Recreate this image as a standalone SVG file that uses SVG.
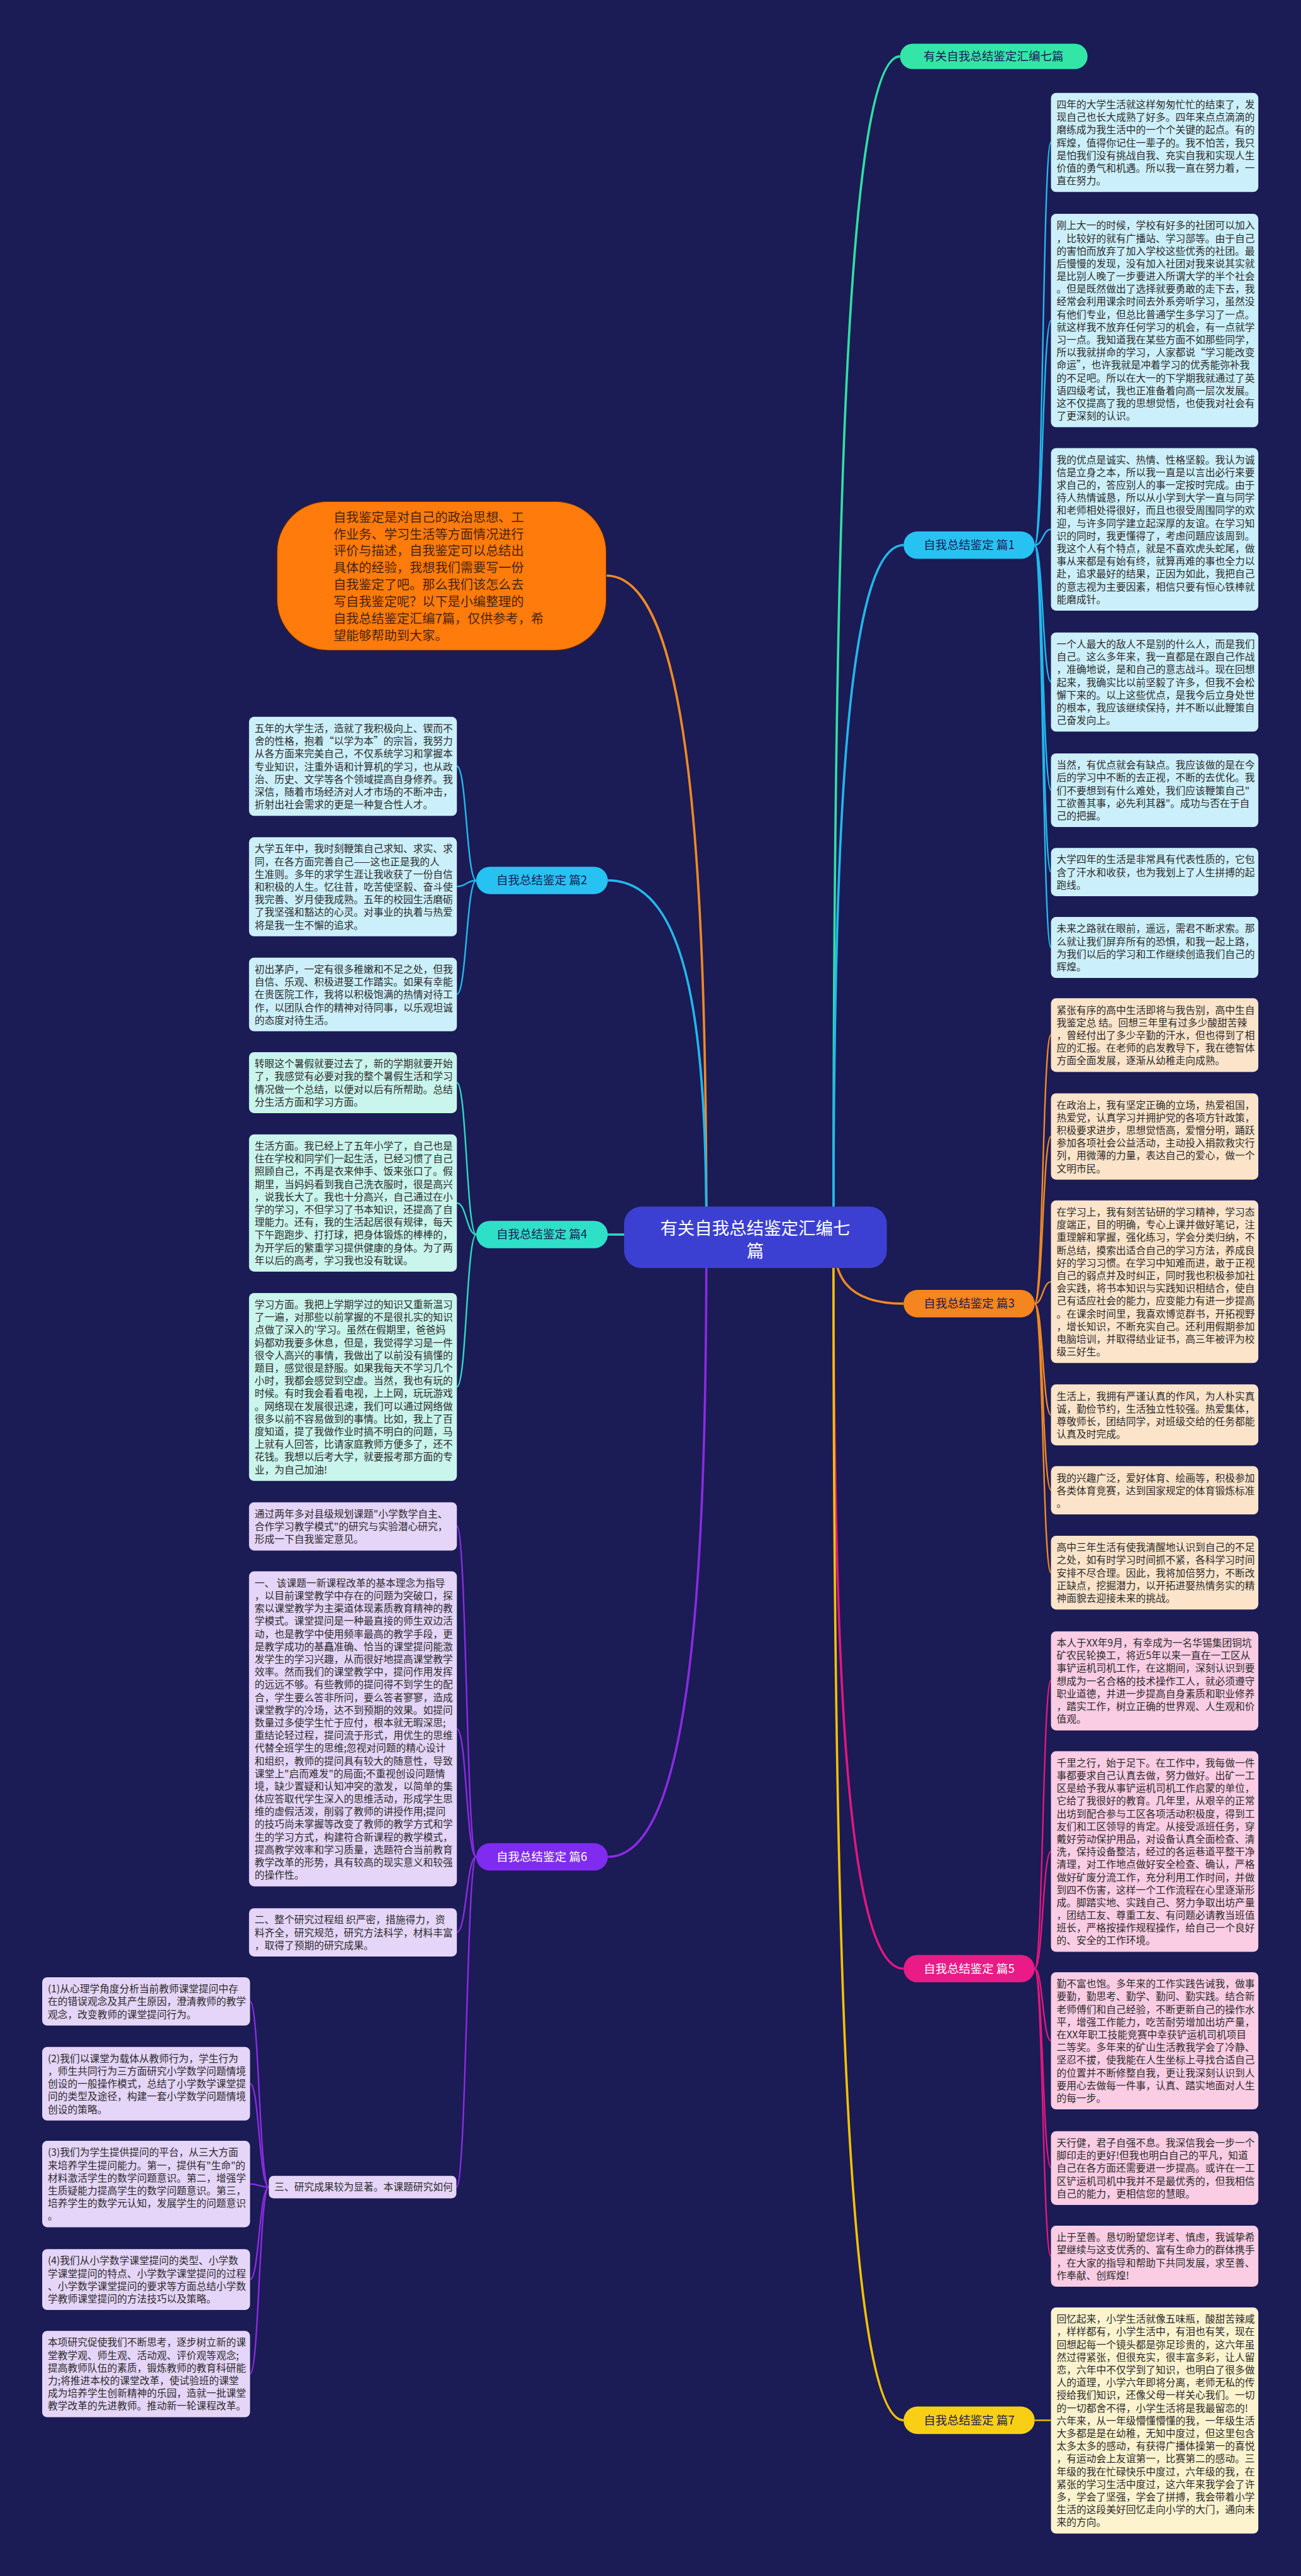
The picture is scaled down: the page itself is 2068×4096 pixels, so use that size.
<svg xmlns="http://www.w3.org/2000/svg" width="2068" height="4096" viewBox="0 0 2068 4096">
<style>
.t{font-family:"Noto Sans CJK SC","Noto Sans CJK JP",sans-serif;font-size:19.5px;fill:#2b2b2b}
.n{font-family:"Noto Sans CJK SC","Noto Sans CJK JP",sans-serif;font-size:23px;text-anchor:middle}
.c{fill:none;stroke-width:3}
.m{fill:none;stroke-width:4.5}
.bA{fill:#ccf0fb}.bB{fill:#fce4ca}.bC{fill:#fbcde4}.bD{fill:#fdf4cf}.bE{fill:#ccf0fb}.bF{fill:#c9f5ec}.bG{fill:#e5d5f8}
</style>
<rect x="0" y="0" width="2068" height="4096" fill="#1b1b55"/>
<g transform="scale(0.8078125)">
<g id="connectors">
<path class="m" stroke="#2fe0a4" d="M1640,2436 C1640,1157 1660,111 1771,111"/>
<path class="m" stroke="#22b8ec" d="M1640,2436 C1640,1686 1661,1073 1778,1073"/>
<path class="m" stroke="#f08a24" d="M1640,2436 C1640,2507 1661,2566 1778,2566"/>
<path class="m" stroke="#e0187f" d="M1640,2436 C1640,3227 1661,3875 1778,3875"/>
<path class="m" stroke="#f2c200" d="M1640,2436 C1640,3717 1661,4764 1778,4764"/>
<path class="m" stroke="#f08a24" d="M1390,2436 C1390,1719 1360,1133 1193,1133"/>
<path class="m" stroke="#22b8ec" d="M1390,2436 C1390,2049 1361,1733 1196,1733"/>
<path class="m" stroke="#2dd9c0" d="M1390,2436 C1390,2433 1361,2430 1196,2430"/>
<path class="m" stroke="#8a2be2" d="M1390,2436 C1390,3106 1361,3655 1196,3655"/>
<g stroke="#22b8ec">
<path class="c" d="M2036,1073 C2052,1073 2052,280 2068,280"/>
<path class="c" d="M2036,1073 C2052,1073 2052,631 2068,631"/>
<path class="c" d="M2036,1073 C2052,1073 2052,1042 2068,1042"/>
<path class="c" d="M2036,1073 C2052,1073 2052,1342 2068,1342"/>
<path class="c" d="M2036,1073 C2052,1073 2052,1555 2068,1555"/>
<path class="c" d="M2036,1073 C2052,1073 2052,1716 2068,1716"/>
<path class="c" d="M2036,1073 C2052,1073 2052,1865 2068,1865"/>
</g>
<g stroke="#f08a24">
<path class="c" d="M2036,2566 C2052,2566 2052,2037 2068,2037"/>
<path class="c" d="M2036,2566 C2052,2566 2052,2237 2068,2237"/>
<path class="c" d="M2036,2566 C2052,2566 2052,2523 2068,2523"/>
<path class="c" d="M2036,2566 C2052,2566 2052,2785 2068,2785"/>
<path class="c" d="M2036,2566 C2052,2566 2052,2933 2068,2933"/>
<path class="c" d="M2036,2566 C2052,2566 2052,3095 2068,3095"/>
</g>
<g stroke="#e0187f">
<path class="c" d="M2036,3875 C2052,3875 2052,3308 2068,3308"/>
<path class="c" d="M2036,3875 C2052,3875 2052,3644 2068,3644"/>
<path class="c" d="M2036,3875 C2052,3875 2052,4017 2068,4017"/>
<path class="c" d="M2036,3875 C2052,3875 2052,4267 2068,4267"/>
<path class="c" d="M2036,3875 C2052,3875 2052,4441 2068,4441"/>
</g>
<path class="c" stroke="#f2c200" d="M2036,4764 L2068,4764"/>
<g stroke="#22b8ec">
<path class="c" d="M937,1733 C918,1733 918,1508 899,1508"/>
<path class="c" d="M937,1733 C918,1733 918,1745 899,1745"/>
<path class="c" d="M937,1733 C918,1733 918,1957 899,1957"/>
</g>
<g stroke="#2dd9c0">
<path class="c" d="M937,2430 C918,2430 918,2131 899,2131"/>
<path class="c" d="M937,2430 C918,2430 918,2368 899,2368"/>
<path class="c" d="M937,2430 C918,2430 918,2730 899,2730"/>
</g>
<g stroke="#8a2be2">
<path class="c" d="M937,3655 C918,3655 918,3004 899,3004"/>
<path class="c" d="M937,3655 C918,3655 918,3403 899,3403"/>
<path class="c" d="M937,3655 C918,3655 918,3803 899,3803"/>
<path class="c" d="M937,3655 C918,3655 918,4305 898,4305"/>
<path class="c" d="M529,4305 C510,4305 510,3939 492,3939"/>
<path class="c" d="M529,4305 C510,4305 510,4101 492,4101"/>
<path class="c" d="M529,4305 C510,4305 510,4299 492,4299"/>
<path class="c" d="M529,4305 C510,4305 510,4487 492,4487"/>
<path class="c" d="M529,4305 C510,4305 510,4673 492,4673"/>
</g>
</g>

<g id="root">
<rect x="1228" y="2375" width="517" height="121" rx="34" fill="#3c40d2"/>
<text class="n" x="1486" y="2430" style="font-size:34px;fill:#ffffff">有关自我总结鉴定汇编七</text>
<text class="n" x="1486" y="2474" style="font-size:34px;fill:#ffffff">篇</text>
</g>

<g id="title-label">
<rect x="1771" y="86" width="369" height="50" rx="25" fill="#33e6a8"/>
<text class="n" x="1955" y="119" fill="#1b1b55">有关自我总结鉴定汇编七篇</text>
</g>

<g id="intro">
<rect x="545" y="987" width="648" height="293" rx="100" fill="#ff7b0b" stroke="#5a2a0a" stroke-width="1.5"/>
<text class="t" style="font-size:25px;fill:#4a2408" x="656" y="1027"><tspan x="656" dy="0">自我鉴定是对自己的政治思想、工</tspan><tspan x="656" dy="33.3">作业务、学习生活等方面情况进行</tspan><tspan x="656" dy="33.3">评价与描述，自我鉴定可以总结出</tspan><tspan x="656" dy="33.3">具体的经验，我想我们需要写一份</tspan><tspan x="656" dy="33.3">自我鉴定了吧。那么我们该怎么去</tspan><tspan x="656" dy="33.3">写自我鉴定呢？以下是小编整理的</tspan><tspan x="656" dy="33.3">自我总结鉴定汇编7篇，仅供参考，希</tspan><tspan x="656" dy="33.3">望能够帮助到大家。</tspan></text>
</g>

<g id="b1">
<rect x="1778" y="1046" width="258" height="54" rx="27" fill="#26c3f2"/>
<text class="n" x="1907" y="1081" fill="#1b1b55">自我总结鉴定 篇1</text>
</g>
<g id="b2">
<rect x="937" y="1706" width="259" height="54" rx="27" fill="#26c3f2"/>
<text class="n" x="1066" y="1741" fill="#1b1b55">自我总结鉴定 篇2</text>
</g>
<g id="b3">
<rect x="1778" y="2539" width="258" height="54" rx="27" fill="#f5851f"/>
<text class="n" x="1907" y="2574" fill="#1b1b55">自我总结鉴定 篇3</text>
</g>
<g id="b4">
<rect x="937" y="2403" width="259" height="54" rx="27" fill="#2fe0c8"/>
<text class="n" x="1066" y="2438" fill="#1b1b55">自我总结鉴定 篇4</text>
</g>
<g id="b5">
<rect x="1778" y="3848" width="258" height="54" rx="27" fill="#ea1a86"/>
<text class="n" x="1907" y="3883" fill="#ffffff">自我总结鉴定 篇5</text>
</g>
<g id="b6">
<rect x="937" y="3628" width="259" height="54" rx="27" fill="#7f2cf0"/>
<text class="n" x="1066" y="3663" fill="#ffffff">自我总结鉴定 篇6</text>
</g>
<g id="b7">
<rect x="1778" y="4737" width="258" height="54" rx="27" fill="#f9cf16"/>
<text class="n" x="1907" y="4772" fill="#1b1b55">自我总结鉴定 篇7</text>
</g>

<g id="A1"><rect class="bA" x="2068" y="183" width="408" height="195" rx="10"/>
<text class="t" y="213"><tspan x="2079" dy="0">四年的大学生活就这样匆匆忙忙的结束了，发</tspan><tspan x="2079" dy="25">现自己也长大成熟了好多。四年来点点滴滴的</tspan><tspan x="2079" dy="25">磨练成为我生活中的一个个关键的起点。有的</tspan><tspan x="2079" dy="25">辉煌，值得你记住一辈子的。我不怕苦，我只</tspan><tspan x="2079" dy="25">是怕我们没有挑战自我、充实自我和实现人生</tspan><tspan x="2079" dy="25">价值的勇气和机遇。所以我一直在努力着，一</tspan><tspan x="2079" dy="25">直在努力。</tspan></text></g>
<g id="A2"><rect class="bA" x="2068" y="421" width="408" height="420" rx="10"/>
<text class="t" y="451"><tspan x="2079" dy="0">刚上大一的时候，学校有好多的社团可以加入</tspan><tspan x="2079" dy="25">，比较好的就有广播站、学习部等。由于自己</tspan><tspan x="2079" dy="25">的害怕而放弃了加入学校这些优秀的社团。最</tspan><tspan x="2079" dy="25">后慢慢的发现，没有加入社团对我来说其实就</tspan><tspan x="2079" dy="25">是比别人晚了一步要进入所谓大学的半个社会</tspan><tspan x="2079" dy="25">。但是既然做出了选择就要勇敢的走下去，我</tspan><tspan x="2079" dy="25">经常会利用课余时间去外系旁听学习，虽然没</tspan><tspan x="2079" dy="25">有他们专业，但总比普通学生多学习了一点。</tspan><tspan x="2079" dy="25">就这样我不放弃任何学习的机会，有一点就学</tspan><tspan x="2079" dy="25">习一点。我知道我在某些方面不如那些同学，</tspan><tspan x="2079" dy="25">所以我就拼命的学习，人家都说“学习能改变</tspan><tspan x="2079" dy="25">命运”，也许我就是冲着学习的优秀能弥补我</tspan><tspan x="2079" dy="25">的不足吧。所以在大一的下学期我就通过了英</tspan><tspan x="2079" dy="25">语四级考试，我也正准备着向高一层次发展。</tspan><tspan x="2079" dy="25">这不仅提高了我的思想觉悟，也使我对社会有</tspan><tspan x="2079" dy="25">了更深刻的认识。</tspan></text></g>
<g id="A3"><rect class="bA" x="2068" y="882" width="408" height="320" rx="10"/>
<text class="t" y="912"><tspan x="2079" dy="0">我的优点是诚实、热情、性格坚毅。我认为诚</tspan><tspan x="2079" dy="25">信是立身之本，所以我一直是以言出必行来要</tspan><tspan x="2079" dy="25">求自己的，答应别人的事一定按时完成。由于</tspan><tspan x="2079" dy="25">待人热情诚恳，所以从小学到大学一直与同学</tspan><tspan x="2079" dy="25">和老师相处得很好，而且也很受周围同学的欢</tspan><tspan x="2079" dy="25">迎，与许多同学建立起深厚的友谊。在学习知</tspan><tspan x="2079" dy="25">识的同时，我更懂得了，考虑问题应该周到。</tspan><tspan x="2079" dy="25">我这个人有个特点，就是不喜欢虎头蛇尾，做</tspan><tspan x="2079" dy="25">事从来都是有始有终，就算再难的事也全力以</tspan><tspan x="2079" dy="25">赴，追求最好的结果，正因为如此，我把自己</tspan><tspan x="2079" dy="25">的意志视为主要因素，相信只要有恒心铁棒就</tspan><tspan x="2079" dy="25">能磨成针。</tspan></text></g>
<g id="A4"><rect class="bA" x="2068" y="1245" width="408" height="195" rx="10"/>
<text class="t" y="1275"><tspan x="2079" dy="0">一个人最大的敌人不是别的什么人，而是我们</tspan><tspan x="2079" dy="25">自己。这么多年来，我一直都是在跟自己作战</tspan><tspan x="2079" dy="25">，准确地说，是和自己的意志战斗。现在回想</tspan><tspan x="2079" dy="25">起来，我确实比以前坚毅了许多，但我不会松</tspan><tspan x="2079" dy="25">懈下来的。以上这些优点，是我今后立身处世</tspan><tspan x="2079" dy="25">的根本，我应该继续保持，并不断以此鞭策自</tspan><tspan x="2079" dy="25">己奋发向上。</tspan></text></g>
<g id="A5"><rect class="bA" x="2068" y="1483" width="408" height="145" rx="10"/>
<text class="t" y="1513"><tspan x="2079" dy="0">当然，有优点就会有缺点。我应该做的是在今</tspan><tspan x="2079" dy="25">后的学习中不断的去正视，不断的去优化。我</tspan><tspan x="2079" dy="25">们不要想到有什么难处，我们应该鞭策自己"</tspan><tspan x="2079" dy="25">工欲善其事，必先利其器"。成功与否在于自</tspan><tspan x="2079" dy="25">己的把握。</tspan></text></g>
<g id="A6"><rect class="bA" x="2068" y="1669" width="408" height="95" rx="10"/>
<text class="t" y="1699"><tspan x="2079" dy="0">大学四年的生活是非常具有代表性质的，它包</tspan><tspan x="2079" dy="25">含了汗水和收获，也为我划上了人生拼搏的起</tspan><tspan x="2079" dy="25">跑线。</tspan></text></g>
<g id="A7"><rect class="bA" x="2068" y="1805" width="408" height="120" rx="10"/>
<text class="t" y="1835"><tspan x="2079" dy="0">未来之路就在眼前，遥远，需君不断求索。那</tspan><tspan x="2079" dy="25">么就让我们屏弃所有的恐惧，和我一起上路，</tspan><tspan x="2079" dy="25">为我们以后的学习和工作继续创造我们自己的</tspan><tspan x="2079" dy="25">辉煌。</tspan></text></g>

<g id="B1"><rect class="bB" x="2068" y="1965" width="408" height="145" rx="10"/>
<text class="t" y="1995"><tspan x="2079" dy="0">紧张有序的高中生活即将与我告别，高中生自</tspan><tspan x="2079" dy="25">我鉴定总 结。回想三年里有过多少酸甜苦辣</tspan><tspan x="2079" dy="25">，曾经付出了多少辛勤的汗水，但也得到了相</tspan><tspan x="2079" dy="25">应的汇报。在老师的启发教导下，我在德智体</tspan><tspan x="2079" dy="25">方面全面发展，逐渐从幼稚走向成熟。</tspan></text></g>
<g id="B2"><rect class="bB" x="2068" y="2152" width="408" height="170" rx="10"/>
<text class="t" y="2182"><tspan x="2079" dy="0">在政治上，我有坚定正确的立场，热爱祖国，</tspan><tspan x="2079" dy="25">热爱党，认真学习并拥护党的各项方针政策，</tspan><tspan x="2079" dy="25">积极要求进步，思想觉悟高，爱憎分明，踊跃</tspan><tspan x="2079" dy="25">参加各项社会公益活动，主动投入捐款救灾行</tspan><tspan x="2079" dy="25">列，用微薄的力量，表达自己的爱心，做一个</tspan><tspan x="2079" dy="25">文明市民。</tspan></text></g>
<g id="B3"><rect class="bB" x="2068" y="2363" width="408" height="320" rx="10"/>
<text class="t" y="2393"><tspan x="2079" dy="0">在学习上，我有刻苦钻研的学习精神，学习态</tspan><tspan x="2079" dy="25">度端正，目的明确，专心上课并做好笔记，注</tspan><tspan x="2079" dy="25">重理解和掌握，强化练习，学会分类归纳，不</tspan><tspan x="2079" dy="25">断总结，摸索出适合自己的学习方法，养成良</tspan><tspan x="2079" dy="25">好的学习习惯。在学习中知难而进，敢于正视</tspan><tspan x="2079" dy="25">自己的弱点并及时纠正，同时我也积极参加社</tspan><tspan x="2079" dy="25">会实践，将书本知识与实践知识相结合，使自</tspan><tspan x="2079" dy="25">己有适应社会的能力，应变能力有进一步提高</tspan><tspan x="2079" dy="25">。在课余时间里，我喜欢博览群书，开拓视野</tspan><tspan x="2079" dy="25">，增长知识，不断充实自己。还利用假期参加</tspan><tspan x="2079" dy="25">电脑培训，并取得结业证书，高三年被评为校</tspan><tspan x="2079" dy="25">级三好生。</tspan></text></g>
<g id="B4"><rect class="bB" x="2068" y="2725" width="408" height="120" rx="10"/>
<text class="t" y="2755"><tspan x="2079" dy="0">生活上，我拥有严谨认真的作风，为人朴实真</tspan><tspan x="2079" dy="25">诚，勤俭节约，生活独立性较强。热爱集体，</tspan><tspan x="2079" dy="25">尊敬师长，团结同学，对班级交给的任务都能</tspan><tspan x="2079" dy="25">认真及时完成。</tspan></text></g>
<g id="B5"><rect class="bB" x="2068" y="2886" width="408" height="95" rx="10"/>
<text class="t" y="2916"><tspan x="2079" dy="0">我的兴趣广泛，爱好体育、绘画等，积极参加</tspan><tspan x="2079" dy="25">各类体育竞赛，达到国家规定的体育锻炼标准</tspan><tspan x="2079" dy="25">。</tspan></text></g>
<g id="B6"><rect class="bB" x="2068" y="3023" width="408" height="145" rx="10"/>
<text class="t" y="3053"><tspan x="2079" dy="0">高中三年生活有使我清醒地认识到自己的不足</tspan><tspan x="2079" dy="25">之处，如有时学习时间抓不紧，各科学习时间</tspan><tspan x="2079" dy="25">安排不尽合理。因此，我将加倍努力，不断改</tspan><tspan x="2079" dy="25">正缺点，挖掘潜力，以开拓进娶热情务实的精</tspan><tspan x="2079" dy="25">神面貌去迎接未来的挑战。</tspan></text></g>

<g id="C1"><rect class="bC" x="2068" y="3211" width="408" height="195" rx="10"/>
<text class="t" y="3241"><tspan x="2079" dy="0">本人于XX年9月，有幸成为一名华锡集团铜坑</tspan><tspan x="2079" dy="25">矿农民轮换工，将近5年以来一直在一工区从</tspan><tspan x="2079" dy="25">事铲运机司机工作，在这期间，深刻认识到要</tspan><tspan x="2079" dy="25">想成为一名合格的技术操作工人，就必须遵守</tspan><tspan x="2079" dy="25">职业道德，并进一步提高自身素质和职业修养</tspan><tspan x="2079" dy="25">，踏实工作，树立正确的世界观、人生观和价</tspan><tspan x="2079" dy="25">值观。</tspan></text></g>
<g id="C2"><rect class="bC" x="2068" y="3447" width="408" height="395" rx="10"/>
<text class="t" y="3477"><tspan x="2079" dy="0">千里之行，始于足下。在工作中，我每做一件</tspan><tspan x="2079" dy="25">事都要求自己认真去做，努力做好。出矿一工</tspan><tspan x="2079" dy="25">区是给予我从事铲运机司机工作启蒙的单位，</tspan><tspan x="2079" dy="25">它给了我很好的教育。几年里，从艰辛的正常</tspan><tspan x="2079" dy="25">出坊到配合参与工区各项活动积极度，得到工</tspan><tspan x="2079" dy="25">友们和工区领导的肯定。从接受派班任务，穿</tspan><tspan x="2079" dy="25">戴好劳动保护用品，对设备认真全面检查、清</tspan><tspan x="2079" dy="25">洗，保持设备整洁，经过的各运巷道平整干净</tspan><tspan x="2079" dy="25">清理，对工作地点做好安全检查、确认，严格</tspan><tspan x="2079" dy="25">做好矿废分流工作，充分利用工作时间，并做</tspan><tspan x="2079" dy="25">到四不伤害，这样一个工作流程在心里逐渐形</tspan><tspan x="2079" dy="25">成。脚踏实地、实践自己、努力争取出坊产量</tspan><tspan x="2079" dy="25">，团结工友、尊重工友、有问题必请教当班值</tspan><tspan x="2079" dy="25">班长，严格按操作规程操作，给自己一个良好</tspan><tspan x="2079" dy="25">的、安全的工作环境。</tspan></text></g>
<g id="C3"><rect class="bC" x="2068" y="3882" width="408" height="270" rx="10"/>
<text class="t" y="3912"><tspan x="2079" dy="0">勤不富也饱。多年来的工作实践告诫我，做事</tspan><tspan x="2079" dy="25">要勤，勤思考、勤学、勤问、勤实践。结合新</tspan><tspan x="2079" dy="25">老师傅们和自己经验，不断更新自己的操作水</tspan><tspan x="2079" dy="25">平，增强工作能力，吃苦耐劳增加出坊产量，</tspan><tspan x="2079" dy="25">在XX年职工技能竞赛中幸获铲运机司机项目</tspan><tspan x="2079" dy="25">二等奖。多年来的矿山生活教我学会了冷静、</tspan><tspan x="2079" dy="25">坚忍不拔，使我能在人生坐标上寻找合适自己</tspan><tspan x="2079" dy="25">的位置并不断修整自我，更让我深刻认识到人</tspan><tspan x="2079" dy="25">要用心去做每一件事，认真、踏实地面对人生</tspan><tspan x="2079" dy="25">的每一步。</tspan></text></g>
<g id="C4"><rect class="bC" x="2068" y="4195" width="408" height="145" rx="10"/>
<text class="t" y="4225"><tspan x="2079" dy="0">天行健，君子自强不息。我深信我会一步一个</tspan><tspan x="2079" dy="25">脚印走的更好!但我也明白自己的平凡，知道</tspan><tspan x="2079" dy="25">自己在各方面还需要进一步提高。或许在一工</tspan><tspan x="2079" dy="25">区铲运机司机中我并不是最优秀的，但我相信</tspan><tspan x="2079" dy="25">自己的能力，更相信您的慧眼。</tspan></text></g>
<g id="C5"><rect class="bC" x="2068" y="4381" width="408" height="120" rx="10"/>
<text class="t" y="4411"><tspan x="2079" dy="0">止于至善。恳切盼望您详考、慎虑，我诚挚希</tspan><tspan x="2079" dy="25">望继续与这支优秀的、富有生命力的群体携手</tspan><tspan x="2079" dy="25">，在大家的指导和帮助下共同发展，求至善、</tspan><tspan x="2079" dy="25">作奉献、创辉煌!</tspan></text></g>

<g id="D1"><rect class="bD" x="2068" y="4542" width="408" height="445" rx="10"/>
<text class="t" y="4572"><tspan x="2079" dy="0">回忆起来，小学生活就像五味瓶，酸甜苦辣咸</tspan><tspan x="2079" dy="25">，样样都有，小学生活中，有泪也有笑，现在</tspan><tspan x="2079" dy="25">回想起每一个镜头都是弥足珍贵的，这六年虽</tspan><tspan x="2079" dy="25">然过得紧张，但很充实，很丰富多彩，让人留</tspan><tspan x="2079" dy="25">恋，六年中不仅学到了知识，也明白了很多做</tspan><tspan x="2079" dy="25">人的道理，小学六年即将分离，老师无私的传</tspan><tspan x="2079" dy="25">授给我们知识，还像父母一样关心我们。一切</tspan><tspan x="2079" dy="25">的一切都舍不得，小学生活将是我最留恋的!</tspan><tspan x="2079" dy="25">六年来，从一年级懵懂懵懂的我，一年级生活</tspan><tspan x="2079" dy="25">大多都是是在幼稚，无知中度过，但这里包含</tspan><tspan x="2079" dy="25">太多太多的感动，有获得广播体操第一的喜悦</tspan><tspan x="2079" dy="25">，有运动会上友谊第一，比赛第二的感动。三</tspan><tspan x="2079" dy="25">年级的我在忙碌快乐中度过，六年级的我，在</tspan><tspan x="2079" dy="25">紧张的学习生活中度过，这六年来我学会了许</tspan><tspan x="2079" dy="25">多，学会了坚强，学会了拼搏，我会带着小学</tspan><tspan x="2079" dy="25">生活的这段美好回忆走向小学的大门，通向未</tspan><tspan x="2079" dy="25">来的方向。</tspan></text></g>

<g id="E1"><rect class="bE" x="490" y="1411" width="409" height="195" rx="10"/>
<text class="t" y="1441"><tspan x="501" dy="0">五年的大学生活，造就了我积极向上、锲而不</tspan><tspan x="501" dy="25">舍的性格，抱着“以学为本”的宗旨，我努力</tspan><tspan x="501" dy="25">从各方面来完美自己，不仅系统学习和掌握本</tspan><tspan x="501" dy="25">专业知识，注重外语和计算机的学习，也从政</tspan><tspan x="501" dy="25">治、历史、文学等各个领域提高自身修养。我</tspan><tspan x="501" dy="25">深信，随着市场经济对人才市场的不断冲击，</tspan><tspan x="501" dy="25">折射出社会需求的更是一种复合性人才。</tspan></text></g>
<g id="E2"><rect class="bE" x="490" y="1648" width="409" height="195" rx="10"/>
<text class="t" y="1678"><tspan x="501" dy="0">大学五年中，我时刻鞭策自己求知、求实、求</tspan><tspan x="501" dy="25">同，在各方面完善自己——这也正是我的人</tspan><tspan x="501" dy="25">生准则。多年的求学生涯让我收获了一份自信</tspan><tspan x="501" dy="25">和积极的人生。忆往昔，吃苦使坚毅、奋斗使</tspan><tspan x="501" dy="25">我完善、岁月使我成熟。五年的校园生活磨砺</tspan><tspan x="501" dy="25">了我坚强和豁达的心灵。对事业的执着与热爱</tspan><tspan x="501" dy="25">将是我一生不懈的追求。</tspan></text></g>
<g id="E3"><rect class="bE" x="490" y="1885" width="409" height="145" rx="10"/>
<text class="t" y="1915"><tspan x="501" dy="0">初出茅庐，一定有很多稚嫩和不足之处，但我</tspan><tspan x="501" dy="25">自信、乐观、积极进娶工作踏实。如果有幸能</tspan><tspan x="501" dy="25">在贵医院工作，我将以积极饱满的热情对待工</tspan><tspan x="501" dy="25">作，以团队合作的精神对待同事，以乐观坦诚</tspan><tspan x="501" dy="25">的态度对待生活。</tspan></text></g>

<g id="F1"><rect class="bF" x="490" y="2071" width="409" height="120" rx="10"/>
<text class="t" y="2101"><tspan x="501" dy="0">转眼这个暑假就要过去了，新的学期就要开始</tspan><tspan x="501" dy="25">了，我感觉有必要对我的整个暑假生活和学习</tspan><tspan x="501" dy="25">情况做一个总结，以便对以后有所帮助。总结</tspan><tspan x="501" dy="25">分生活方面和学习方面。</tspan></text></g>
<g id="F2"><rect class="bF" x="490" y="2233" width="409" height="270" rx="10"/>
<text class="t" y="2263"><tspan x="501" dy="0">生活方面。我已经上了五年小学了，自己也是</tspan><tspan x="501" dy="25">住在学校和同学们一起生活，已经习惯了自己</tspan><tspan x="501" dy="25">照顾自己，不再是衣来伸手、饭来张口了。假</tspan><tspan x="501" dy="25">期里，当妈妈看到我自己洗衣服时，很是高兴</tspan><tspan x="501" dy="25">，说我长大了。我也十分高兴，自己通过在小</tspan><tspan x="501" dy="25">学的学习，不但学习了书本知识，还提高了自</tspan><tspan x="501" dy="25">理能力。还有，我的生活起居很有规律，每天</tspan><tspan x="501" dy="25">下午跑跑步、打打球，把身体锻炼的棒棒的，</tspan><tspan x="501" dy="25">为开学后的繁重学习提供健康的身体。为了两</tspan><tspan x="501" dy="25">年以后的高考，学习我也没有耽误。</tspan></text></g>
<g id="F3"><rect class="bF" x="490" y="2545" width="409" height="370" rx="10"/>
<text class="t" y="2575"><tspan x="501" dy="0">学习方面。我把上学期学过的知识又重新温习</tspan><tspan x="501" dy="25">了一遍，对那些以前掌握的不是很扎实的知识</tspan><tspan x="501" dy="25">点做了深入的'学习。虽然在假期里，爸爸妈</tspan><tspan x="501" dy="25">妈都劝我要多休息，但是，我觉得学习是一件</tspan><tspan x="501" dy="25">很令人高兴的事情，我做出了以前没有搞懂的</tspan><tspan x="501" dy="25">题目，感觉很是舒服。如果我每天不学习几个</tspan><tspan x="501" dy="25">小时，我都会感觉到空虚。当然，我也有玩的</tspan><tspan x="501" dy="25">时候。有时我会看看电视，上上网，玩玩游戏</tspan><tspan x="501" dy="25">。网络现在发展很迅速，我们可以通过网络做</tspan><tspan x="501" dy="25">很多以前不容易做到的事情。比如，我上了百</tspan><tspan x="501" dy="25">度知道，提了我做作业时搞不明白的问题，马</tspan><tspan x="501" dy="25">上就有人回答，比请家庭教师方便多了，还不</tspan><tspan x="501" dy="25">花钱。我想以后考大学，就要报考那方面的专</tspan><tspan x="501" dy="25">业，为自己加油!</tspan></text></g>

<g id="G1"><rect class="bG" x="490" y="2957" width="409" height="95" rx="10"/>
<text class="t" y="2987"><tspan x="501" dy="0">通过两年多对县级规划课题"小学数学自主、</tspan><tspan x="501" dy="25">合作学习教学模式"的研究与实验潜心研究，</tspan><tspan x="501" dy="25">形成一下自我鉴定意见。</tspan></text></g>
<g id="G2"><rect class="bG" x="490" y="3093" width="409" height="620" rx="10"/>
<text class="t" y="3123"><tspan x="501" dy="0">一、 该课题一新课程改革的基本理念为指导</tspan><tspan x="501" dy="25">，以目前课堂教学中存在的问题为突破口，探</tspan><tspan x="501" dy="25">索以课堂教学为主渠道体现素质教育精神的教</tspan><tspan x="501" dy="25">学模式。课堂提问是一种最直接的师生双边活</tspan><tspan x="501" dy="25">动，也是教学中使用频率最高的教学手段，更</tspan><tspan x="501" dy="25">是教学成功的基矗准确、恰当的课堂提问能激</tspan><tspan x="501" dy="25">发学生的学习兴趣，从而很好地提高课堂教学</tspan><tspan x="501" dy="25">效率。然而我们的课堂教学中，提问作用发挥</tspan><tspan x="501" dy="25">的远远不够。有些教师的提问得不到学生的配</tspan><tspan x="501" dy="25">合，学生要么答非所问，要么答者寥寥，造成</tspan><tspan x="501" dy="25">课堂教学的冷场，达不到预期的效果。如提问</tspan><tspan x="501" dy="25">数量过多使学生忙于应付，根本就无暇深思;</tspan><tspan x="501" dy="25">重结论轻过程，提问流于形式，用优生的思维</tspan><tspan x="501" dy="25">代替全班学生的思维;忽视对问题的精心设计</tspan><tspan x="501" dy="25">和组织，教师的提问具有较大的随意性，导致</tspan><tspan x="501" dy="25">课堂上"启而难发"的局面;不重视创设问题情</tspan><tspan x="501" dy="25">境，缺少置疑和认知冲突的激发，以简单的集</tspan><tspan x="501" dy="25">体应答取代学生深入的思维活动，形成学生思</tspan><tspan x="501" dy="25">维的虚假活泼，削弱了教师的讲授作用;提问</tspan><tspan x="501" dy="25">的技巧尚未掌握等改变了教师的教学方式和学</tspan><tspan x="501" dy="25">生的学习方式，构建符合新课程的教学模式，</tspan><tspan x="501" dy="25">提高教学效率和学习质量，选题符合当前教育</tspan><tspan x="501" dy="25">教学改革的形势，具有较高的现实意义和较强</tspan><tspan x="501" dy="25">的操作性。</tspan></text></g>
<g id="G3"><rect class="bG" x="490" y="3756" width="409" height="95" rx="10"/>
<text class="t" y="3786"><tspan x="501" dy="0">二、整个研究过程组 织严密，措施得力，资</tspan><tspan x="501" dy="25">料齐全，研究规范，研究方法科学，材料丰富</tspan><tspan x="501" dy="25">，取得了预期的研究成果。</tspan></text></g>
<g id="G4"><rect class="bG" x="529" y="4283" width="369" height="44" rx="9"/>
<text class="t" x="540" y="4312">三、研究成果较为显著。本课题研究如何</text></g>

<g id="H1"><rect class="bG" x="83" y="3892" width="409" height="95" rx="10"/>
<text class="t" y="3922"><tspan x="94" dy="0">(1)从心理学角度分析当前教师课堂提问中存</tspan><tspan x="94" dy="25">在的错误观念及其产生原因，澄清教师的教学</tspan><tspan x="94" dy="25">观念，改变教师的课堂提问行为。</tspan></text></g>
<g id="H2"><rect class="bG" x="83" y="4029" width="409" height="145" rx="10"/>
<text class="t" y="4059"><tspan x="94" dy="0">(2)我们以课堂为载体从教师行为，学生行为</tspan><tspan x="94" dy="25">，师生共同行为三方面研究小学数学问题情境</tspan><tspan x="94" dy="25">创设的一般操作模式，总结了小学数学课堂提</tspan><tspan x="94" dy="25">问的类型及途径，构建一套小学数学问题情境</tspan><tspan x="94" dy="25">创设的策略。</tspan></text></g>
<g id="H3"><rect class="bG" x="83" y="4214" width="409" height="170" rx="10"/>
<text class="t" y="4244"><tspan x="94" dy="0">(3)我们为学生提供提问的平台，从三大方面</tspan><tspan x="94" dy="25">来培养学生提问能力。第一，提供有"生命"的</tspan><tspan x="94" dy="25">材料激活学生的数学问题意识。第二，增强学</tspan><tspan x="94" dy="25">生质疑能力提高学生的数学问题意识。第三，</tspan><tspan x="94" dy="25">培养学生的数学元认知，发展学生的问题意识</tspan><tspan x="94" dy="25">。</tspan></text></g>
<g id="H4"><rect class="bG" x="83" y="4427" width="409" height="120" rx="10"/>
<text class="t" y="4457"><tspan x="94" dy="0">(4)我们从小学数学课堂提问的类型、小学数</tspan><tspan x="94" dy="25">学课堂提问的特点、小学数学课堂提问的过程</tspan><tspan x="94" dy="25">、小学数学课堂提问的要求等方面总结小学数</tspan><tspan x="94" dy="25">学教师课堂提问的方法技巧以及策略。</tspan></text></g>
<g id="H5"><rect class="bG" x="83" y="4588" width="409" height="170" rx="10"/>
<text class="t" y="4618"><tspan x="94" dy="0">本项研究促使我们不断思考，逐步树立新的课</tspan><tspan x="94" dy="25">堂教学观、师生观、活动观、评价观等观念;</tspan><tspan x="94" dy="25">提高教师队伍的素质，锻炼教师的教育科研能</tspan><tspan x="94" dy="25">力;将推进本校的课堂改革，使试验班的课堂</tspan><tspan x="94" dy="25">成为培养学生创新精神的乐园，造就一批课堂</tspan><tspan x="94" dy="25">教学改革的先进教师。推动新一轮课程改革。</tspan></text></g>
</g>
</svg>
